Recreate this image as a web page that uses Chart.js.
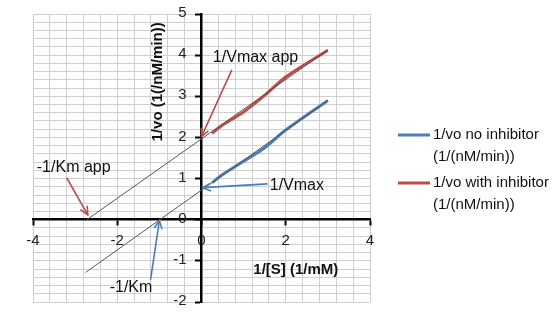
<!DOCTYPE html>
<html>
<head>
<meta charset="utf-8">
<script src="https://cdn.jsdelivr.net/npm/chart.js@4.4.0/dist/chart.umd.min.js"></script>
<style>
  html, body { margin: 0; padding: 0; background: #fff; }
  canvas { display: block; }
</style>
</head>
<body>
<canvas id="chart" width="560" height="323"></canvas>
<script>
// Lineweaver-Burk data
const invS = [0.25, 0.5, 1, 1.5, 2, 3];
const noInhibitor = [0.9, 1.1, 1.42, 1.75, 2.18, 2.9];
const withInhibitor = [2.1, 2.3, 2.62, 3.02, 3.47, 4.12];

// linear trendlines (extended back to the x-axis)
const trendX = [-2.75, 3];
const noInhibitorTrend = [-1.28, 2.9];
const withInhibitorTrend = [-0.02, 4.13];

const xTickLabels = [-4, -2, 0, 2, 4];
const yTickLabels = [-2, -1, 0, 1, 2, 3, 4, 5];
const seriesNames = [
    ['1/vo no inhibitor', '(1/(nM/min))'],
    ['1/vo with inhibitor', '(1/(nM/min))']
];

const BLUE = '#4A7EBB';
const RED = '#BE4B48';
const GRID = '#CFCFCF';
const FONT = '"Liberation Sans", Arial, sans-serif';

function pts(xs, ys) {
    return xs.map((x, i) => ({ x: x, y: ys[i] }));
}
function isMajor(list, v) {
    return list.some(t => Math.abs(t - v) < 1e-6);
}

// text + arrows in data coordinates
const notes = [
    { text: '1/Vmax app', x: 0.27, y: 3.93 },
    { text: '-1/Km app', x: -3.91, y: 1.27 },
    { text: '1/Vmax', x: 1.62, y: 0.83 },
    { text: '-1/Km', x: -2.18, y: -1.64 }
];
const arrows = [
    { from: [0.72, 3.64], to: [0.0, 2.02], color: RED },
    { from: [-3.2, 1.02], to: [-2.7, 0.12], color: RED },
    { from: [1.57, 0.87], to: [0.03, 0.78], color: BLUE },
    { from: [-1.21, -1.46], to: [-1.0, -0.02], color: BLUE }
];

const extras = {
    id: 'extras',
    afterDatasetsDraw(chart) {
        const ctx = chart.ctx;
        const sx = chart.scales.x, sy = chart.scales.y;
        ctx.save();

        // arrows
        arrows.forEach(a => {
            const x1 = sx.getPixelForValue(a.from[0]), y1 = sy.getPixelForValue(a.from[1]);
            const x2 = sx.getPixelForValue(a.to[0]), y2 = sy.getPixelForValue(a.to[1]);
            const ang = Math.atan2(y2 - y1, x2 - x1);
            ctx.strokeStyle = a.color;
            ctx.lineWidth = 1.6;
            ctx.beginPath();
            ctx.moveTo(x1, y1);
            ctx.lineTo(x2, y2);
            ctx.stroke();
            ctx.beginPath();
            ctx.moveTo(x2 - 9 * Math.cos(ang - 0.45), y2 - 9 * Math.sin(ang - 0.45));
            ctx.lineTo(x2, y2);
            ctx.lineTo(x2 - 9 * Math.cos(ang + 0.45), y2 - 9 * Math.sin(ang + 0.45));
            ctx.stroke();
        });

        // y tick labels, to the left of the axis at x = 0
        ctx.fillStyle = '#222';
        ctx.font = '15px ' + FONT;
        ctx.textAlign = 'right';
        ctx.textBaseline = 'middle';
        const axisX = sx.getPixelForValue(0);
        yTickLabels.forEach(v => {
            ctx.fillText(String(v), axisX - 15, sy.getPixelForValue(v) - 1);
        });

        // labels
        ctx.fillStyle = '#111';
        ctx.font = '16px ' + FONT;
        ctx.textAlign = 'left';
        notes.forEach(n => {
            ctx.fillText(n.text, sx.getPixelForValue(n.x), sy.getPixelForValue(n.y));
        });

        // axis titles
        ctx.font = 'bold 15px ' + FONT;
        ctx.textAlign = 'center';
        ctx.fillText('1/[S] (1/mM)', sx.getPixelForValue(2.24), sy.getPixelForValue(-1.21));
        ctx.save();
        ctx.translate(sx.getPixelForValue(-1.04), sy.getPixelForValue(3.35));
        ctx.rotate(-Math.PI / 2);
        ctx.fillText('1/vo (1(/nM/min))', 0, 0);
        ctx.restore();

        // legend
        ctx.font = '15px ' + FONT;
        ctx.textAlign = 'left';
        const colors = [BLUE, RED];
        seriesNames.forEach((lines, i) => {
            const top = 135 + i * 48;
            ctx.strokeStyle = colors[i];
            ctx.lineWidth = 3;
            ctx.beginPath();
            ctx.moveTo(398, top);
            ctx.lineTo(430, top);
            ctx.stroke();
            ctx.fillStyle = '#111';
            lines.forEach((l, j) => ctx.fillText(l, 433, top + j * 22));
        });
        ctx.restore();
    }
};

new Chart(document.getElementById('chart'), {
    type: 'scatter',
    data: {
        datasets: [
            {
                label: seriesNames[0].join(' '),
                data: pts(invS, noInhibitor),
                showLine: true,
                borderColor: BLUE,
                borderWidth: 3,
                pointRadius: 0,
                tension: 0.35,
                order: 1
            },
            {
                label: seriesNames[1].join(' '),
                data: pts(invS, withInhibitor),
                showLine: true,
                borderColor: RED,
                borderWidth: 3,
                pointRadius: 0,
                tension: 0.35,
                order: 1
            },
            {
                label: 'trend no inhibitor',
                data: pts(trendX, noInhibitorTrend),
                showLine: true,
                borderColor: '#555',
                borderWidth: 1,
                pointRadius: 0,
                order: 0
            },
            {
                label: 'trend with inhibitor',
                data: pts(trendX, withInhibitorTrend),
                showLine: true,
                borderColor: '#555',
                borderWidth: 1,
                pointRadius: 0,
                order: 0
            }
        ]
    },
    options: {
        responsive: false,
        animation: false,
        layout: { padding: { left: 33, top: 14, right: 190, bottom: 21 } },
        plugins: {
            legend: { display: false },
            tooltip: { enabled: false }
        },
        scales: {
            x: {
                type: 'linear',
                position: { y: 0 },
                min: -4,
                max: 4,
                afterFit(scale) { scale.height = 0; },
                border: { display: true, color: '#000', width: 2.5 },
                grid: {
                    color: GRID,
                    lineWidth: 1,
                    tickLength: 5,
                    tickWidth: 2,
                    tickColor: c => (c.tick && isMajor(xTickLabels, c.tick.value)) ? '#000' : 'rgba(0,0,0,0)'
                },
                ticks: {
                    stepSize: 0.4,
                    autoSkip: false,
                    maxTicksLimit: 100,
                    maxRotation: 0,
                    padding: 7,
                    color: '#222',
                    font: { family: FONT, size: 15 },
                    callback: v => isMajor(xTickLabels, v) ? String(Math.round(v)) : ''
                }
            },
            y: {
                type: 'linear',
                position: { x: 0 },
                min: -2,
                max: 5,
                afterFit(scale) { scale.width = 0; },
                border: { display: true, color: '#000', width: 2.5 },
                grid: {
                    color: GRID,
                    lineWidth: 1,
                    tickLength: 5,
                    tickWidth: 2,
                    tickColor: c => (c.tick && isMajor(yTickLabels, c.tick.value)) ? '#000' : 'rgba(0,0,0,0)'
                },
                ticks: {
                    display: false,
                    stepSize: 0.2,
                    autoSkip: false,
                    maxTicksLimit: 100
                }
            }
        }
    },
    plugins: [extras]
});
</script>
</body>
</html>
